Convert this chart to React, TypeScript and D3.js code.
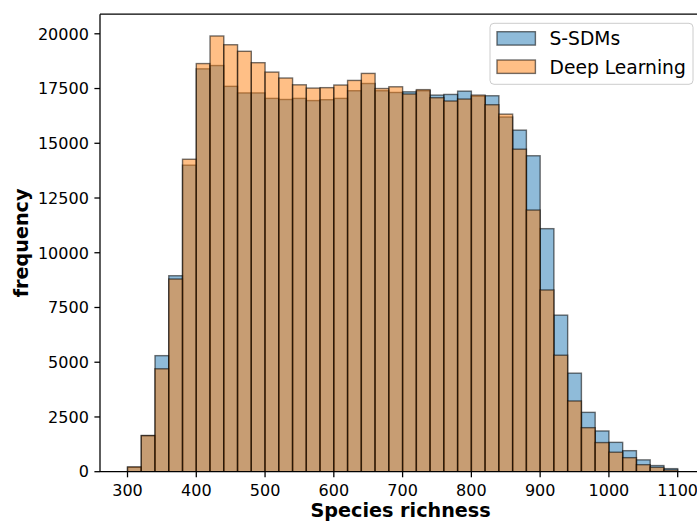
import React from "react";
import * as d3 from "d3";

const binStarts: number[] = d3.range(300, 1100, 20);
const binWidth = 20;
const sdmCounts: number[] = [
  200, 1650, 5300, 8950, 14000, 18400, 18550, 17600, 17300, 17300,
  17050, 17000, 17050, 16950, 16990, 17050, 17400, 17730, 17400, 17320,
  17350, 17400, 17200, 17230, 17380, 17150, 17170, 16200, 15600, 14430,
  11100, 7150, 4500, 2710, 1860, 1340, 960, 540, 280, 140,
];
const dlCounts: number[] = [
  220, 1650, 4700, 8800, 14270, 18640, 19900, 19500, 19200, 18680,
  18250, 17980, 17670, 17520, 17540, 17660, 17870, 18190, 17500, 17580,
  17250, 17450, 17080, 16930, 17020, 17200, 16760, 16330, 14730, 11950,
  8300, 5320, 3230, 2010, 1330, 890, 640, 320, 200, 80,
];
const xTicks: number[] = [300, 400, 500, 600, 700, 800, 900, 1000, 1100];
const yTicks: number[] = [0, 2500, 5000, 7500, 10000, 12500, 15000, 17500, 20000];
const seriesNames: string[] = ["S-SDMs", "Deep Learning"];

const W = 697;
const H = 522;
const left = 100;
const right = 705.2;
const top = 14.2;
const bottom = 471.7;

export default function App() {
  const x = d3.scaleLinear().domain([260, 1140]).range([left, right]);
  const yMax = (d3.max(dlCounts.concat(sdmCounts)) as number) * 1.05;
  const y = d3.scaleLinear().domain([0, yMax]).range([bottom, top]);
  const font = "'DejaVu Sans', sans-serif";
  const series = [
    { counts: sdmCounts, color: "#1f77b4" },
    { counts: dlCounts, color: "#ff7f0e" },
  ];
  return (
    <div style={{ position: "absolute", left: 0, top: 0 }}>
      <svg width={W} height={H} style={{ display: "block", background: "#fff" }}>
        <defs>
          <clipPath id="plotclip">
            <rect x={left} y={top} width={right - left} height={bottom - top} />
          </clipPath>
        </defs>
        <g clipPath="url(#plotclip)">
          {series.map((s, si) => (
            <g key={si}>
              {binStarts.map((b, i) => (
                <rect
                  key={i}
                  x={x(b)}
                  y={y(s.counts[i])}
                  width={x(b + binWidth) - x(b)}
                  height={y(0) - y(s.counts[i])}
                  fill={s.color}
                  fillOpacity={0.5}
                  stroke="#000"
                  strokeOpacity={0.55}
                  strokeWidth={1.4}
                />
              ))}
            </g>
          ))}
        </g>
        {/* spines */}
        <line x1={left} x2={left} y1={top} y2={bottom} stroke="#000" strokeWidth={1.28} />
        <line x1={left} x2={right} y1={bottom} y2={bottom} stroke="#000" strokeWidth={1.28} />
        <line x1={left} x2={right} y1={top} y2={top} stroke="#000" strokeWidth={1.28} />
        <line x1={right} x2={right} y1={top} y2={bottom} stroke="#000" strokeWidth={1.28} />
        {/* x ticks */}
        {xTicks.map((t) => (
          <g key={t} transform={`translate(${x(t)},${bottom})`}>
            <line y1={0} y2={5.6} stroke="#000" strokeWidth={1.28} />
            <text y={24} textAnchor="middle" fontSize={16} fontFamily={font} fill="#000">
              {t}
            </text>
          </g>
        ))}
        {/* y ticks */}
        {yTicks.map((t) => (
          <g key={t} transform={`translate(${left},${y(t)})`}>
            <line x1={0} x2={-5.6} stroke="#000" strokeWidth={1.28} />
            <text x={-11.2} dy="0.36em" textAnchor="end" fontSize={16} fontFamily={font} fill="#000">
              {t}
            </text>
          </g>
        ))}
        <text
          x={(left + right) / 2 - 2}
          y={517}
          textAnchor="middle"
          fontSize={19.2}
          fontWeight="bold"
          fontFamily={font}
          fill="#000"
        >
          Species richness
        </text>
        <text
          transform={`translate(28,${(top + bottom) / 2}) rotate(-90)`}
          textAnchor="middle"
          fontSize={19.2}
          fontWeight="bold"
          fontFamily={font}
          fill="#000"
        >
          frequency
        </text>
        {/* legend */}
        <g>
          <rect x={490} y={23.3} width={203} height={61} rx={4} fill="#fff" fillOpacity={0.8} stroke="#ccc" strokeWidth={1} />
          {seriesNames.map((name, i) => (
            <g key={name} transform={`translate(0,${i * 28.3})`}>
              <rect
                x={497}
                y={31.7}
                width={38.4}
                height={13.4}
                fill={series[i].color}
                fillOpacity={0.5}
                stroke="#000"
                strokeOpacity={0.55}
                strokeWidth={1.4}
              />
              <text x={549.5} y={45.3} fontSize={18.7} fontFamily={font} fill="#000">
                {name}
              </text>
            </g>
          ))}
        </g>
      </svg>
    </div>
  );
}
